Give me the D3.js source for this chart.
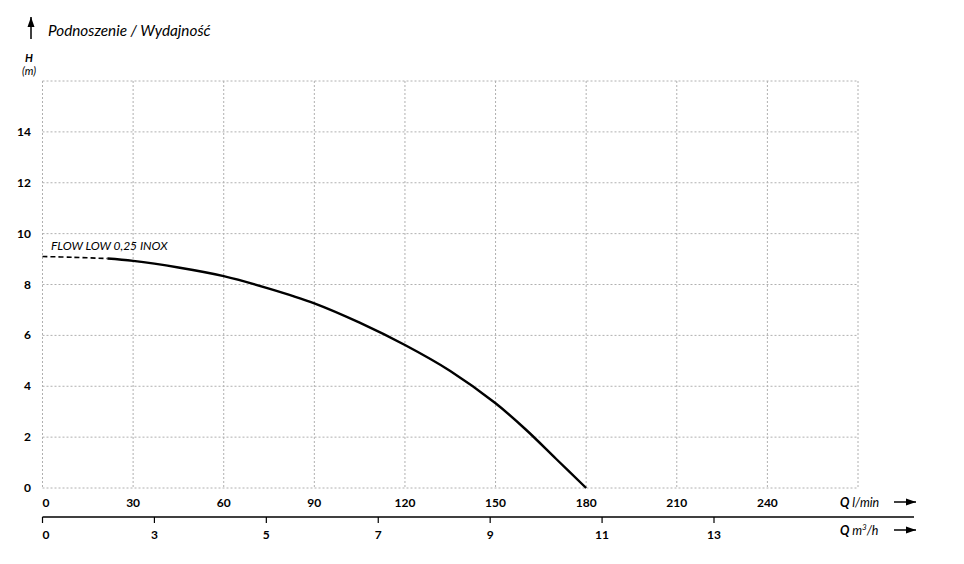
<!DOCTYPE html>
<html>
<head>
<meta charset="utf-8">
<script src="https://cdn.jsdelivr.net/npm/d3@7"></script>
<style>
  body { margin: 0; background: #fff; }
  svg { display: block; font-family: Lato, "Open Sans", sans-serif; }
</style>
</head>
<body>
<div id="chart"></div>
<script>
const width = 964;
const height = 564;

// pump curve, H (m) against Q (l/min)
const flowLpm = [0, 10, 21.5, 30, 45, 60, 75, 90, 105, 120, 135, 150, 160, 170, 180];
const headM = [9.1, 9.07, 9.02, 8.93, 8.67, 8.33, 7.84, 7.26, 6.5, 5.62, 4.6, 3.33, 2.3, 1.15, 0];
const dashedCount = 3; // first points drawn dashed

const yTicks = [0, 2, 4, 6, 8, 10, 12, 14];
const lpmTicks = [0, 30, 60, 90, 120, 150, 180, 210, 240];
const m3hTicks = ["0", "3", "5", "7", "9", "11", "13"];

const title = "Podnoszenie / Wydajność";
const seriesName = "FLOW LOW 0,25 INOX";

let x = d3.scaleLinear().domain([0, 270]).range([42.5, 858]);
let y = d3.scaleLinear().domain([0, 16]).range([488, 81]);
let xm = d3.scalePoint().domain(m3hTicks).range([42.5, 714]);

let svg = d3.select("#chart").append("svg")
  .attr("width", width)
  .attr("height", height);

svg.append("rect").attr("width", width).attr("height", height).attr("fill", "#fff");

svg.append("defs").append("marker")
  .attr("id", "arr")
  .attr("viewBox", "0 0 10 10")
  .attr("refX", 10).attr("refY", 5)
  .attr("markerWidth", 10).attr("markerHeight", 10)
  .attr("markerUnits", "userSpaceOnUse")
  .attr("orient", "auto")
  .append("path").attr("d", "M0,1.5L10,5L0,8.5Z").attr("fill", "#000");

// grid
let grid = svg.append("g").attr("stroke", "#b0b0b0").attr("stroke-dasharray", "2,2").attr("stroke-width", 1);
grid.selectAll(".v").data(d3.range(0, 271, 30)).enter().append("line")
  .attr("x1", d => x(d)).attr("x2", d => x(d))
  .attr("y1", y(16)).attr("y2", y(0));
grid.selectAll(".h").data(d3.range(0, 17, 2)).enter().append("line")
  .attr("x1", x(0)).attr("x2", x(270))
  .attr("y1", d => y(d)).attr("y2", d => y(d));

// y labels
svg.append("g").selectAll("text").data(yTicks).enter().append("text")
  .attr("x", 31).attr("y", d => y(d) + 1)
  .attr("text-anchor", "end").attr("dominant-baseline", "middle")
  .attr("font-size", 12).attr("font-weight", "bold")
  .text(d => d);

// l/min labels
svg.append("g").selectAll("text").data(lpmTicks).enter().append("text")
  .attr("x", d => x(d))
  .attr("y", 507)
  .attr("text-anchor", d => d === 0 ? "start" : "middle")
  .attr("font-size", 12).attr("font-weight", "bold")
  .text(d => d);

// m3/h axis
let gM = svg.append("g");
gM.append("line").attr("x1", 42.5).attr("x2", 914).attr("y1", 517).attr("y2", 517)
  .attr("stroke", "#000").attr("stroke-width", 1.5);
gM.selectAll(".tk").data(m3hTicks).enter().append("line")
  .attr("x1", d => xm(d)).attr("x2", d => xm(d))
  .attr("y1", 517).attr("y2", 523).attr("stroke", "#000").attr("stroke-width", 1.2);
gM.selectAll("text").data(m3hTicks).enter().append("text")
  .attr("x", d => xm(d))
  .attr("y", 539)
  .attr("text-anchor", d => d === "0" ? "start" : "middle")
  .attr("font-size", 12).attr("font-weight", "bold")
  .text(d => d);

// axis names with arrows
function qLabel(yy, unit, sup) {
  let t = svg.append("text").attr("x", 840).attr("y", yy).attr("font-size", 12.5).attr("font-style", "italic");
  t.append("tspan").attr("font-weight", "bold").text("Q ");
  t.append("tspan").text(unit);
  if (sup) {
    t.append("tspan").attr("font-size", 8).attr("dy", -5).text(sup);
    t.append("tspan").attr("dy", 5).text("/h");
  }
}
qLabel(507, "l/min");
qLabel(535, "m", "3");
[502, 530].forEach(yy => {
  svg.append("line").attr("x1", 894).attr("x2", 916).attr("y1", yy).attr("y2", yy)
    .attr("stroke", "#000").attr("stroke-width", 1.5).attr("marker-end", "url(#arr)");
});

// title and H label
svg.append("line").attr("x1", 31).attr("x2", 31).attr("y1", 39).attr("y2", 17)
  .attr("stroke", "#000").attr("stroke-width", 1.5).attr("marker-end", "url(#arr)");
svg.append("text").attr("x", 48).attr("y", 36).attr("font-size", 15.3).attr("font-style", "italic").text(title);
svg.append("text").attr("x", 29).attr("y", 62).attr("text-anchor", "middle")
  .attr("font-size", 11).attr("font-style", "italic").attr("font-weight", "bold").text("H");
svg.append("text").attr("x", 29).attr("y", 75).attr("text-anchor", "middle")
  .attr("font-size", 11).attr("font-style", "italic").text("(m)");

// curve
let pts = flowLpm.map((q, i) => [q, headM[i]]);
let line = d3.line().x(d => x(d[0])).y(d => y(d[1])).curve(d3.curveCatmullRom.alpha(0.5));
svg.append("path").attr("d", line(pts.slice(0, dashedCount)))
  .attr("fill", "none").attr("stroke", "#000").attr("stroke-width", 1.6).attr("stroke-dasharray", "5,3");
svg.append("path").attr("d", line(pts.slice(dashedCount - 1)))
  .attr("fill", "none").attr("stroke", "#000").attr("stroke-width", 2.4);

svg.append("text").attr("x", 51).attr("y", 250).attr("font-size", 12).attr("font-style", "italic").text(seriesName);
</script>
</body>
</html>
